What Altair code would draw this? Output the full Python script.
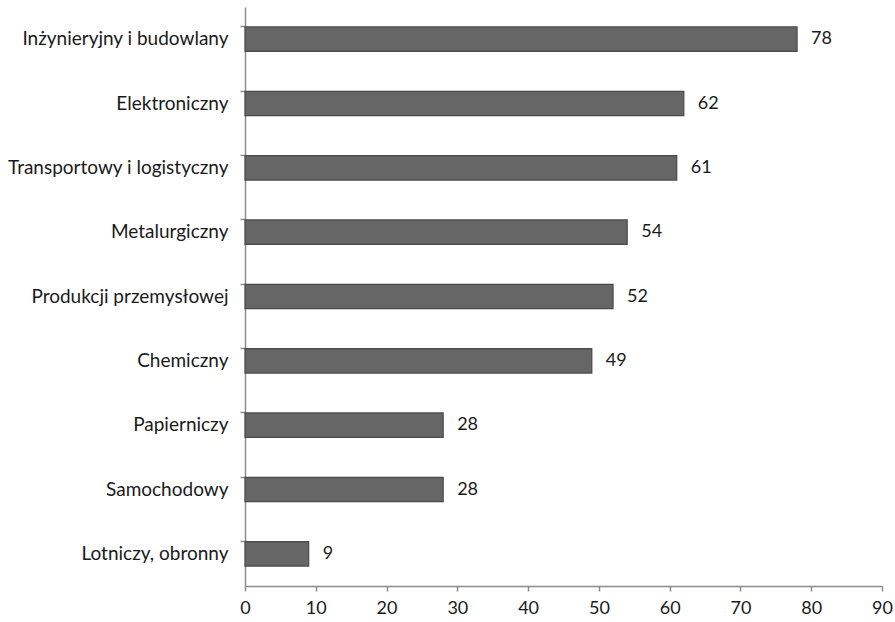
import altair as alt
import pandas as pd

categories = ["Inżynieryjny i budowlany", "Elektroniczny", "Transportowy i logistyczny",
              "Metalurgiczny", "Produkcji przemysłowej", "Chemiczny", "Papierniczy",
              "Samochodowy", "Lotniczy, obronny"]
values = [78, 62, 61, 54, 52, 49, 28, 28, 9]
x_ticks = [0, 10, 20, 30, 40, 50, 60, 70, 80, 90]

df = pd.DataFrame({"cat": categories, "val": values})

FONT = "Lato"
AX = "#8c8c8c"

y_enc = alt.Y("cat:N", sort=categories, title=None,
              scale=alt.Scale(paddingInner=0.62, paddingOuter=0.31),
              axis=alt.Axis(bandPosition=0, labelFont=FONT, labelFontSize=19,
                            labelColor="#1a1a1a", labelPadding=12, tickColor=AX,
                            domainColor=AX, tickSize=5, domainWidth=1.5, tickWidth=1.5,
                            labelBound=False, labelLimit=400))
x_enc = alt.X("val:Q", title=None,
              scale=alt.Scale(domain=[0, 90], nice=False),
              axis=alt.Axis(values=x_ticks, labelFont=FONT, labelFontSize=18,
                            labelColor="#1a1a1a", tickColor=AX, domainColor=AX,
                            tickSize=5, domainWidth=1.5, tickWidth=1.5, grid=False,
                            labelPadding=8, labelFlush=False))

bars = alt.Chart(df).mark_bar(color="#666666", stroke="#4a4a4a", strokeWidth=1.2).encode(
    y=y_enc, x=x_enc)

labels = alt.Chart(df).mark_text(align="left", baseline="middle", dx=14, font=FONT,
                                 fontSize=18, color="#1a1a1a").encode(
    y=alt.Y("cat:N", sort=categories), x=alt.X("val:Q"), text="val:Q")

chart = (bars + labels).properties(
    width=637, height=579,
    autosize=alt.AutoSizeParams(type="none"),
    padding={"left": 245, "top": 7, "right": 13, "bottom": 36},
    background="white",
).configure_view(stroke=None)

chart.save("out.html", embed_options={"renderer": "svg", "actions": False})
